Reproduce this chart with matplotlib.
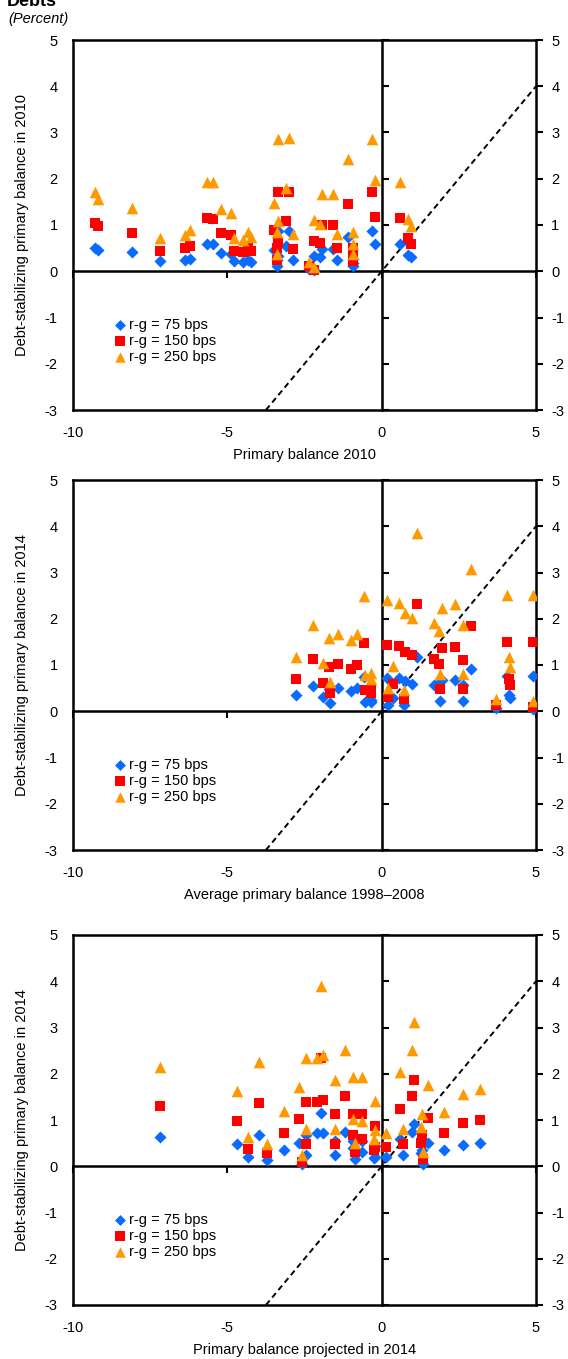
import matplotlib.pyplot as plt
import numpy as np

plt.rcParams['font.family'] = ['Liberation Sans', 'DejaVu Sans']
plt.rcParams['axes.unicode_minus'] = False

# panel 1: primary balance 2010
p1_x = [-9.3, -9.2, -8.1, -7.18, -6.37, -6.2, -5.67, -5.46, -5.22, -4.89, -4.8, -4.5,
        -4.33, -4.22, -3.5, -3.35, -3.0, -3.1, -3.4, -3.35, -3.38, -2.86, -2.35, -2.2,
        -2.19, -2.0, -1.94, -1.59, -1.46, -1.1, -0.94, -0.94, -0.94, -0.32, -0.22,
        0.59, 0.84, 0.95]
p1_75 = [0.51, 0.47, 0.41, 0.22, 0.24, 0.26, 0.58, 0.58, 0.40, 0.38, 0.22, 0.19,
         0.25, 0.20, 0.47, 0.86, 0.86, 0.54, 0.11, 0.33, 0.25, 0.24, 0.05, 0.03,
         0.33, 0.31, 0.49, 0.49, 0.24, 0.74, 0.11, 0.18, 0.26, 0.86, 0.58,
         0.58, 0.35, 0.30]
p1_150 = [1.04, 0.97, 0.83, 0.44, 0.50, 0.54, 1.16, 1.14, 0.83, 0.78, 0.44, 0.41,
          0.52, 0.44, 0.90, 1.71, 1.71, 1.08, 0.24, 0.63, 0.50, 0.49, 0.12, 0.03,
          0.66, 0.61, 1.00, 1.01, 0.50, 1.45, 0.22, 0.36, 0.50, 1.71, 1.17,
          1.16, 0.71, 0.60]
p1_250 = [1.71, 1.57, 1.37, 0.72, 0.79, 0.89, 1.92, 1.92, 1.35, 1.27, 0.72, 0.67,
          0.85, 0.73, 1.48, 2.87, 2.88, 1.79, 0.38, 1.09, 0.85, 0.80, 0.20, 0.09,
          1.10, 1.02, 1.66, 1.66, 0.81, 2.42, 0.38, 0.60, 0.85, 2.87, 1.98,
          1.93, 1.14, 0.97]

# panel 2: average primary balance 1998-2008
p2_x = [-2.79, -2.21, -1.91, -1.71, -1.68, -1.4, -1.0, -0.79, -0.57, -0.55, -0.36, -0.34,
        0.18, 0.20, 0.56, 0.38, 0.72, 0.75, 0.97, 1.13, 1.7, 1.87, 1.9, 1.97, 2.37,
        2.64, 2.64, 2.88, 3.7, 4.05, 4.12, 4.16, 4.89, 4.89]
p2_75 = [0.35, 0.55, 0.31, 0.48, 0.18, 0.50, 0.44, 0.50, 0.74, 0.20, 0.20, 0.25,
         0.71, 0.13, 0.71, 0.28, 0.13, 0.65, 0.60, 1.17, 0.56, 0.62, 0.22, 0.67, 0.67,
         0.56, 0.22, 0.92, 0.07, 0.76, 0.35, 0.28, 0.76, 0.05]
p2_150 = [0.69, 1.12, 0.62, 0.96, 0.40, 1.02, 0.92, 0.99, 1.48, 0.45, 0.40, 0.49,
          1.43, 0.31, 1.41, 0.60, 0.27, 1.28, 1.21, 2.31, 1.14, 1.03, 0.48, 1.36, 1.39,
          1.10, 0.48, 1.84, 0.13, 1.50, 0.69, 0.56, 1.50, 0.10]
p2_250 = [1.17, 1.87, 1.04, 1.59, 0.63, 1.68, 1.55, 1.66, 2.49, 0.78, 0.69, 0.83,
          2.40, 0.51, 2.35, 0.97, 0.47, 2.13, 2.02, 3.86, 1.90, 1.73, 0.80, 2.24, 2.31,
          1.86, 0.80, 3.08, 0.27, 2.51, 1.17, 0.96, 2.51, 0.22]

# panel 3: primary balance projected in 2014
p3_x = [-7.18, -4.7, -4.32, -3.97, -3.73, -3.15, -2.68, -2.45, -2.45, -2.57, -2.1, -1.89,
        -1.97, -1.51, -1.51, -1.19, -0.92, -0.65, -0.92, -0.65, -0.85, -0.22, -0.22, -0.25,
        0.13, 0.59, 0.7, 1.05, 0.97, 1.27, 1.35, 1.3, 1.51, 2.02, 2.62, 3.18]
p3_75 = [0.63, 0.48, 0.19, 0.67, 0.13, 0.35, 0.50, 0.67, 0.24, 0.05, 0.71, 0.72,
         1.16, 0.55, 0.24, 0.74, 0.55, 0.55, 0.40, 0.31, 0.15, 0.43, 0.20, 0.18,
         0.20, 0.60, 0.24, 0.92, 0.74, 0.28, 0.05, 0.36, 0.50, 0.35, 0.47, 0.50]
p3_150 = [1.30, 0.97, 0.38, 1.36, 0.29, 0.71, 1.02, 1.39, 0.49, 0.09, 1.40, 1.44,
          2.33, 1.14, 0.49, 1.51, 1.14, 1.14, 0.67, 0.60, 0.31, 0.86, 0.42, 0.36,
          0.42, 1.23, 0.49, 1.86, 1.51, 0.50, 0.15, 0.67, 1.04, 0.72, 0.94, 1.01]
p3_250 = [2.15, 1.62, 0.63, 2.26, 0.48, 1.19, 1.71, 2.33, 0.80, 0.24, 2.35, 2.40,
          3.89, 1.87, 0.81, 2.52, 1.92, 1.92, 1.03, 0.98, 0.50, 1.41, 0.78, 0.60,
          0.72, 2.03, 0.80, 3.12, 2.52, 0.85, 0.30, 1.14, 1.75, 1.17, 1.56, 1.68]

x_labels = ['Primary balance 2010', 'Average primary balance 1998\u20132008',
            'Primary balance projected in 2014']
y_labels = ['Debt-stabilizing primary balance in 2010',
            'Debt-stabilizing primary balance in 2014',
            'Debt-stabilizing primary balance in 2014']
series_names = ['r-g = 75 bps', 'r-g = 150 bps', 'r-g = 250 bps']
ref_slope = 0.8

panels = [(p1_x, p1_75, p1_150, p1_250),
          (p2_x, p2_75, p2_150, p2_250),
          (p3_x, p3_75, p3_150, p3_250)]

fig = plt.figure(figsize=(5.68, 13.59), dpi=100)
fig.text(0.012, 1 - 6 / 1359, 'Debts', fontsize=13, fontweight='bold', va='baseline')
fig.text(0.014, 1 - 19 / 1359, '(Percent)', fontsize=10.5, style='italic', va='center')

tops = [40, 480, 935]
xmin, xmax, ymin, ymax = -10, 5, -3, 5

for i, (xs, s75, s150, s250) in enumerate(panels):
    top = tops[i]
    ax = fig.add_axes([73 / 568, 1 - (top + 370) / 1359, 463 / 568, 370 / 1359])
    ax.set_xlim(xmin, xmax)
    ax.set_ylim(ymin, ymax)

    ax.scatter(xs, s75, marker='D', s=38, color='#0A6CFF', linewidths=0,
               label=series_names[0], zorder=3)
    ax.scatter(xs, s150, marker='s', s=62, color='#FF0000', linewidths=0,
               label=series_names[1], zorder=4)
    ax.scatter(xs, s250, marker='^', s=70, color='#FF9900', linewidths=0,
               label=series_names[2], zorder=5)

    ax.axline((0, 0), slope=ref_slope, color='black', ls=(0, (3, 2)), lw=1.4, zorder=2)

    # zero axes with their tick marks
    sy = ax.secondary_yaxis((0 - xmin) / (xmax - xmin))
    sy.set_yticks(range(ymin, ymax + 1))
    sy.yaxis.set_ticks_position('right')
    sy.tick_params(direction='out', length=5, width=1.5, labelright=False, labelleft=False)
    sy.spines['right'].set_linewidth(1.8)
    sy.spines['left'].set_linewidth(1.8)
    sx = ax.secondary_xaxis((0 - ymin) / (ymax - ymin))
    sx.set_xticks([-10, -5, 0, 5])
    sx.xaxis.set_ticks_position('bottom')
    sx.tick_params(direction='out', length=5, width=1.5, labelbottom=False, labeltop=False)
    sx.spines['bottom'].set_linewidth(1.8)
    sx.spines['top'].set_linewidth(1.8)

    ax.set_xticks([-10, -5, 0, 5])
    ax.set_yticks(range(ymin, ymax + 1))
    ax.tick_params(axis='x', bottom=False, labelbottom=True, pad=8, labelsize=10.5)
    ax.tick_params(axis='y', left=False, right=True, labelleft=True, labelright=True,
                   direction='out', length=5, width=1.5, pad=6, labelsize=10.5)
    for sp in ax.spines.values():
        sp.set_linewidth(1.8)

    ax.set_xlabel(x_labels[i], fontsize=10.5, labelpad=6)
    ax.set_ylabel(y_labels[i], fontsize=10.5, labelpad=11)

    ax.legend(loc='upper left', bbox_to_anchor=(0.07, 0.265), frameon=False,
              fontsize=10.5, handletextpad=0.0, labelspacing=0.15,
              borderaxespad=0, handlelength=1.2, markerscale=0.9)

fig.savefig('out.png', dpi=100)
